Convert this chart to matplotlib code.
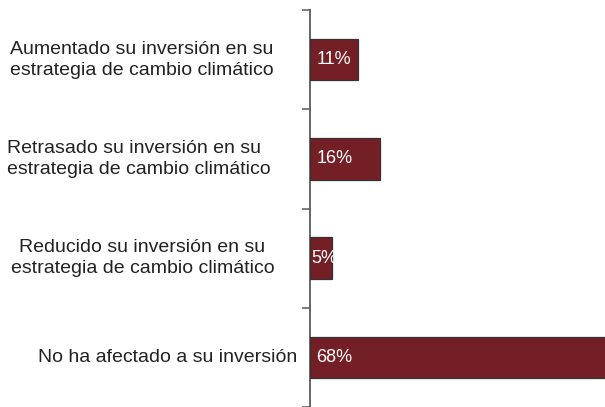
import matplotlib
matplotlib.use("Agg")
import matplotlib.pyplot as plt
from matplotlib.transforms import blended_transform_factory

categories = [
    "Aumentado su inversión en su\nestrategia de cambio climático",
    "Retrasado su inversión en su\nestrategia de cambio climático",
    "Reducido su inversión en su\nestrategia de cambio climático",
    "No ha afectado a su inversión",
]
values = [11, 16, 5, 68]
value_labels = ["11%", "16%", "5%", "68%"]

W, H = 605, 407
plt.rcParams['font.family'] = ['Liberation Sans', 'DejaVu Sans']
fig = plt.figure(figsize=(W / 100, H / 100), dpi=100)
ax = fig.add_axes([310 / W, 0, (W - 310) / W, 397 / H])

ypos = list(range(len(categories)))
bars = ax.barh(ypos, values, height=0.42, color="#741F25",
               edgecolor="#333333", linewidth=0.9, zorder=3)

ax.set_xlim(0, 67.8)
ax.set_ylim(3.5, -0.5)

for s in ["top", "right", "bottom"]:
    ax.spines[s].set_visible(False)
ax.spines["left"].set_color("#5a5a5a")
ax.spines["left"].set_linewidth(1.3)
ax.set_xticks([])
ax.set_yticks([])
ax.set_yticks([-0.5, 0.5, 1.5, 2.5, 3.5], minor=True)
ax.tick_params(axis="y", which="minor", direction="out", length=6,
               width=1.1, color="#5a5a5a", labelleft=False)

trans = blended_transform_factory(fig.transFigure, ax.transData)
fs = 14
label_x = [10, 7, 142.5, 297]
label_ha = ["left", "left", "center", "right"]
for y, txt, x, ha in zip(ypos, categories, label_x, label_ha):
    ax.text(x / W, y, txt, transform=trans, ha=ha, va="center",
            multialignment=ha if ha != "right" else "center",
            fontsize=fs, color="#222222", linespacing=1.3, clip_on=False)

val_x = [317, 317, 311, 316]
for y, txt, x, b in zip(ypos, value_labels, val_x, bars):
    t = ax.text(x / W, y, txt, transform=trans, ha="left", va="center",
                fontsize=13, color="white", zorder=4)
    t.set_clip_path(b)

fig.savefig("out.png", dpi=100)
